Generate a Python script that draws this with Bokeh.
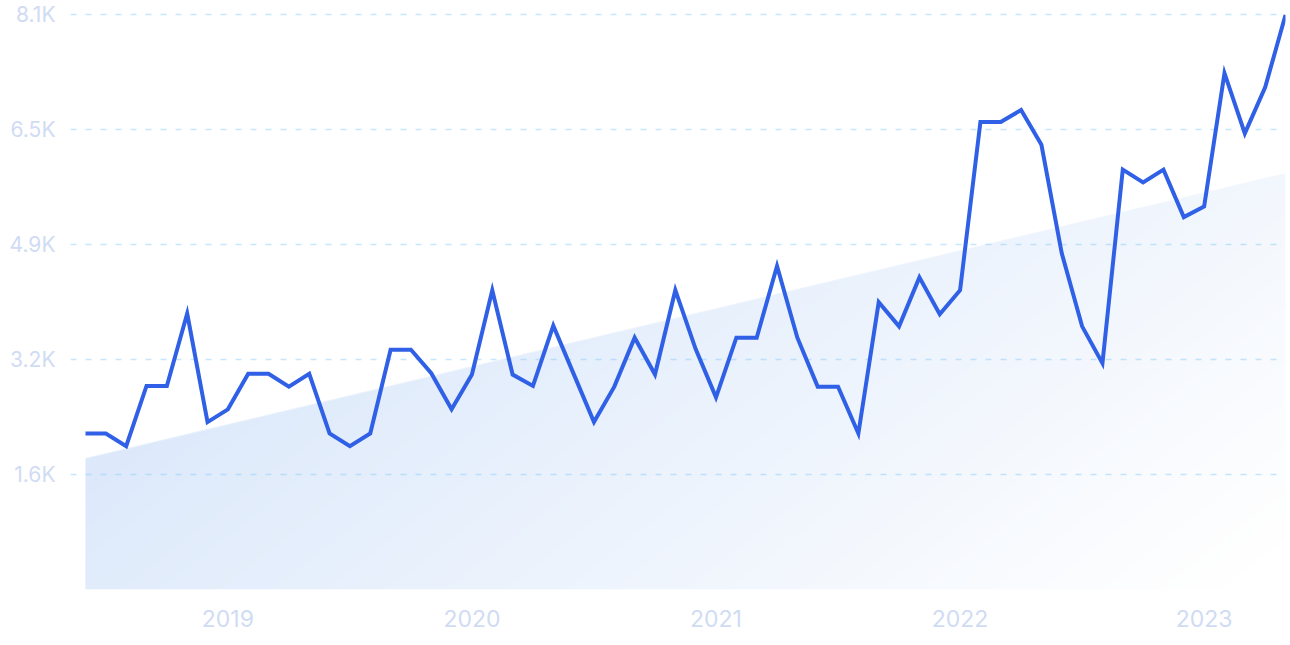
import numpy as np
import pandas as pd
from bokeh.plotting import figure
from bokeh.models import FixedTicker, Range1d
from bokeh.embed import file_html
from bokeh.resources import INLINE

# ---- data -------------------------------------------------------------
months = [str(p_) for p_ in pd.period_range("2018-06", "2023-05", freq="M")]
values = [2200, 2200, 2020, 2870, 2870, 3890, 2360, 2540, 3040, 3040,
          2860, 3040, 2200, 2020, 2200, 3380, 3380, 3050, 2540, 3030,
          4220, 3030, 2870, 3720, 3040, 2360, 2860, 3550, 3030, 4220,
          3390, 2710, 3550, 3550, 4560, 3550, 2860, 2860, 2200, 4050,
          3710, 4400, 3880, 4220, 6590, 6590, 6760, 6270, 4740, 3710,
          3190, 5920, 5740, 5920, 5250, 5400, 7280, 6430, 7080, 8100]
trend_start = 1850
trend_end = 5870
year_labels = ["2019", "2020", "2021", "2022", "2023"]
y_ticks = [1620, 3240, 4860, 6480, 8100]
y_labels = ["1.6K", "3.2K", "4.9K", "6.5K", "8.1K"]

x = list(range(len(months)))
n_last = len(months) - 1
year_ticks = [months.index(f"{y}-01") for y in year_labels]

# ---- figure -----------------------------------------------------------
p = figure(width=1288, height=637,
           x_range=Range1d(-0.7375, n_last), y_range=Range1d(0, 8163),
           output_backend="svg", toolbar_location=None,
           min_border_left=70, min_border_right=3,
           min_border_top=10, min_border_bottom=48)
p.outline_line_color = None
p.background_fill_color = "white"
p.border_fill_color = "white"

# gradient trend area as an RGBA image under the trend line
W, H = 1200, 416
xs = (np.arange(W) + 0.5) / W * n_last
ys = (np.arange(H) + 0.5) / H * trend_end
trend_at = trend_start + (trend_end - trend_start) * xs / n_last
alpha = np.clip((trend_at[None, :] - ys[:, None]) / (trend_end / H) + 0.5, 0, 1)
xf = xs / n_last
yfd = 1 - ys / trend_end
t = np.clip(0.72 * xf[None, :] + 0.32 * yfd[:, None], 0, 1)
c0 = np.array([211, 227, 250], dtype=float)
rgb = 255 - (255 - c0)[None, None, :] * (1 - t)[:, :, None]
img = np.zeros((H, W), dtype=np.uint32)
view = img.view(dtype=np.uint8).reshape((H, W, 4))
view[..., 0] = rgb[..., 0].astype(np.uint8)
view[..., 1] = rgb[..., 1].astype(np.uint8)
view[..., 2] = rgb[..., 2].astype(np.uint8)
view[..., 3] = (alpha * 255).astype(np.uint8)
p.image_rgba(image=[img], x=0, y=0, dw=n_last, dh=trend_end, level="image")

# main line
p.line(x, values, line_color="#2f60e6", line_width=4, line_join="miter")

# ---- axes & grid ------------------------------------------------------
label_color = "#d0dbf4"
font = "Inter"

p.yaxis.ticker = FixedTicker(ticks=y_ticks)
p.yaxis.major_label_overrides = {k: v for k, v in zip(y_ticks, y_labels)}
p.xaxis.ticker = FixedTicker(ticks=year_ticks)
p.xaxis.major_label_overrides = {k: v for k, v in zip(year_ticks, year_labels)}

for ax in (p.xaxis[0], p.yaxis[0]):
    ax.axis_line_color = None
    ax.major_tick_line_color = None
    ax.minor_tick_line_color = None
    ax.major_label_text_color = label_color
    ax.major_label_text_font = font
p.xaxis.major_label_text_font_size = "23px"
p.yaxis.major_label_text_font_size = "21px"
p.yaxis.major_label_standoff = 9
p.xaxis.major_label_standoff = 14

p.xgrid.grid_line_color = None
p.ygrid.grid_line_color = "#8ccdfb"
p.ygrid.grid_line_alpha = 0.5
p.ygrid.grid_line_width = 1.5
p.ygrid.grid_line_dash = "6 9"

open("out.html", "w").write(file_html(p, INLINE))
